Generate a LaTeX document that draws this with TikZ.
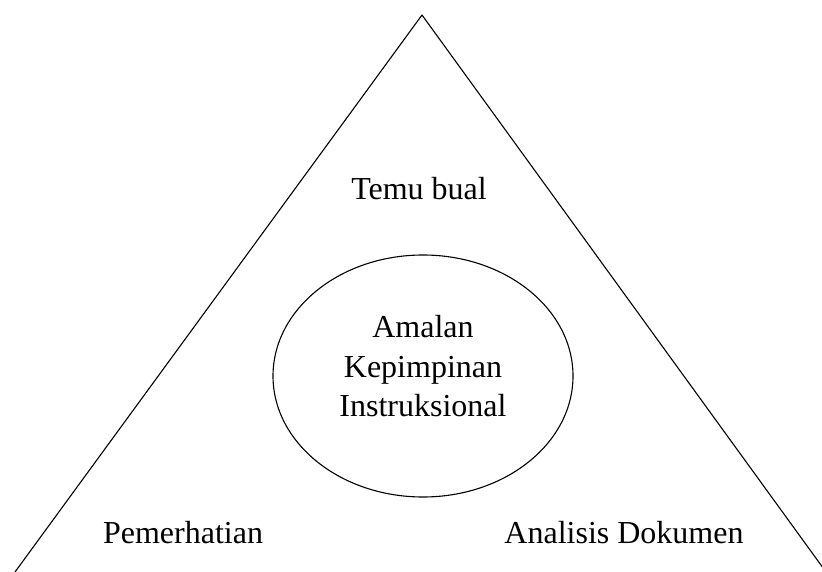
\documentclass[tikz,border=0pt]{standalone}
\usepackage{fontspec}
\setmainfont{Liberation Serif}
\usetikzlibrary{shapes.geometric}
\tikzset{
    label text/.style={font=\fontsize{32}{39.5}\selectfont, inner sep=0pt, align=center},
}
\begin{document}
\begin{tikzpicture}[x=1pt, y=-1pt, line width=1.1pt, line join=round]
\useasboundingbox (0,0) rectangle (822,572);
\clip (0,0) rectangle (822,572);

\coordinate (top) at (422,15);
\coordinate (left) at (15,572);
\coordinate (right) at (826,572);
\draw (left)--(top)--(right);

\node[draw, ellipse, minimum width=300, minimum height=242, inner sep=0pt] (core) at (423,376) {};
\node[label text] (amalan) at (423,366.5) {Amalan\\Kepimpinan\\Instruksional};

\node[label text, anchor=base] (temu) at (419,200) {Temu bual};
\node[label text, anchor=base] (pemerhatian) at (183,543) {Pemerhatian};
\node[label text, anchor=base] (analisis) at (624,543) {Analisis Dokumen};

\end{tikzpicture}
\end{document}
